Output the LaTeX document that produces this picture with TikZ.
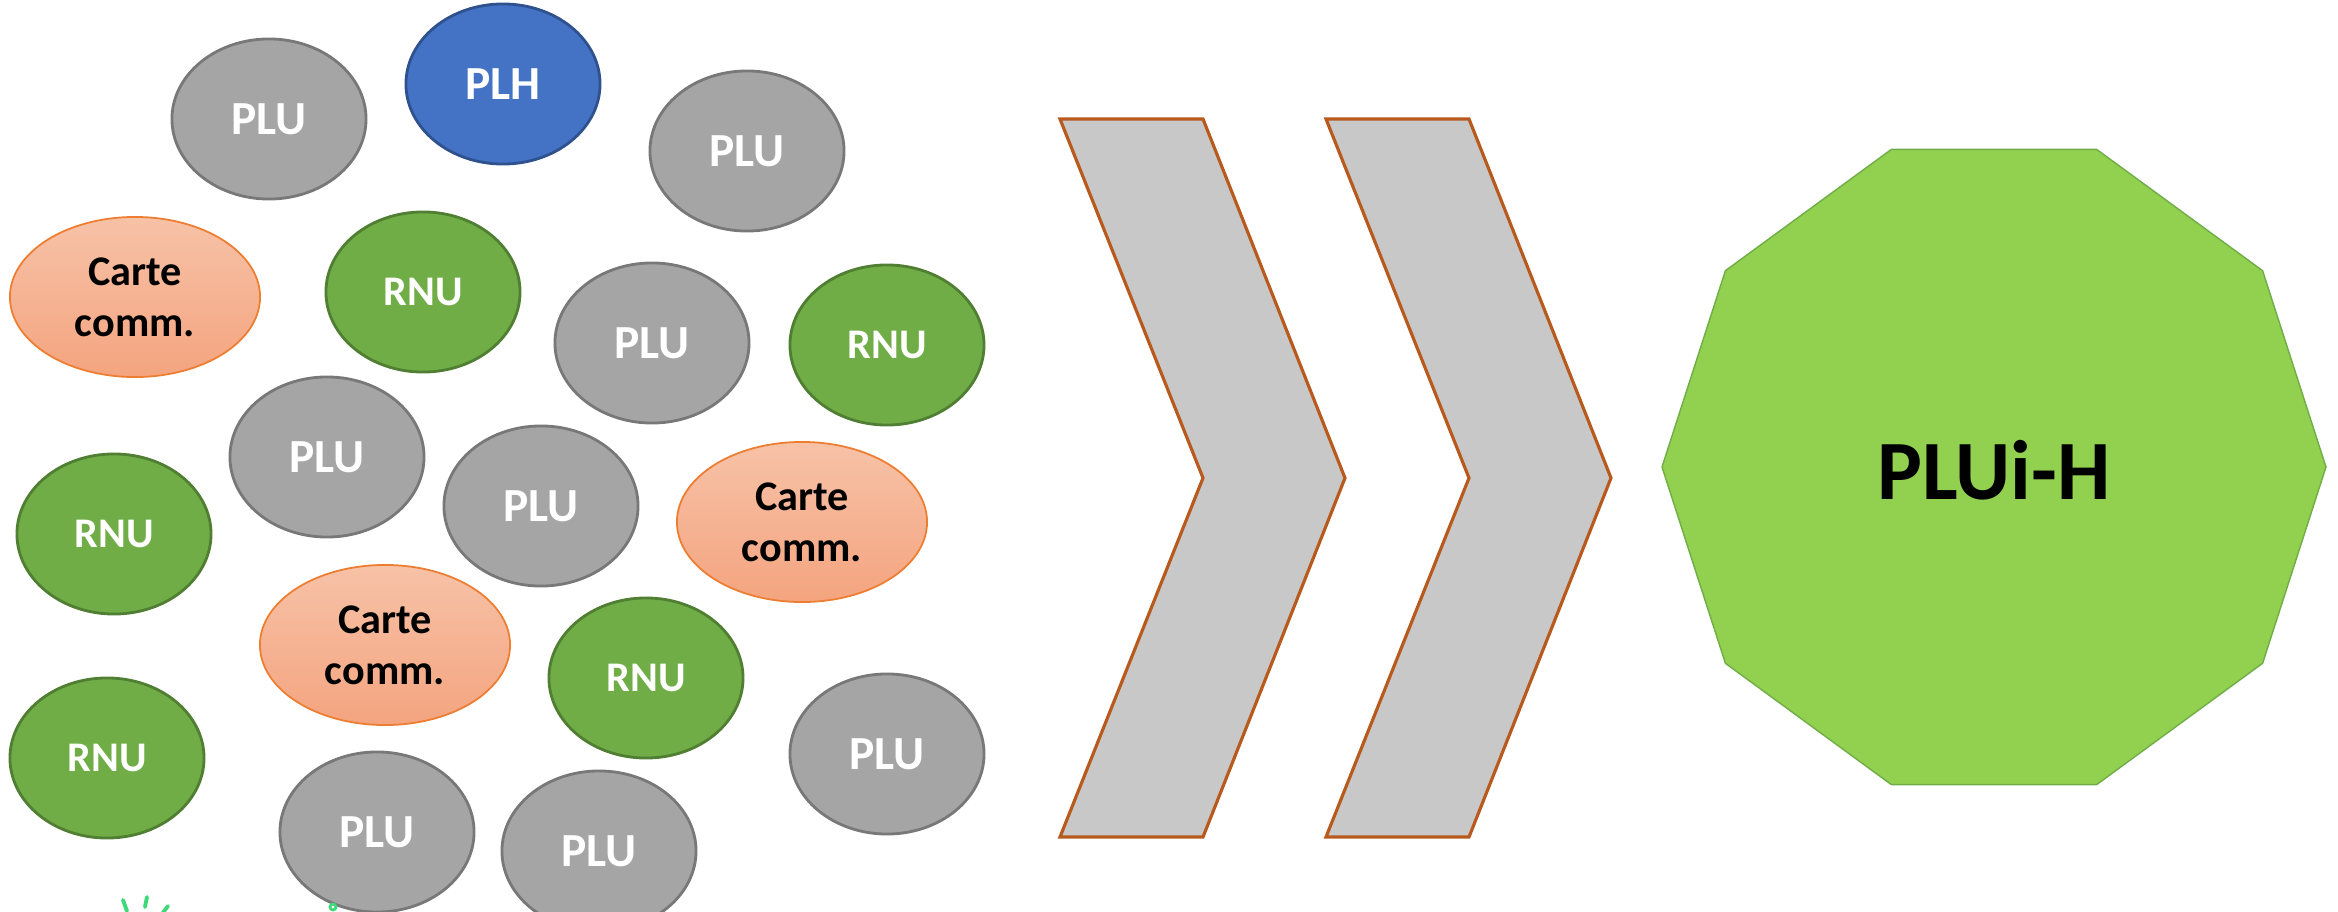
\documentclass[tikz,border=0pt]{standalone}
\usepackage{fontspec}
\setmainfont{Carlito}
\usetikzlibrary{shapes.geometric}
\definecolor{pluGray}{HTML}{A5A5A5}
\definecolor{pluEdge}{HTML}{787878}
\definecolor{rnuGreen}{HTML}{70AD47}
\definecolor{rnuEdge}{HTML}{507E32}
\definecolor{plhBlue}{HTML}{4472C4}
\definecolor{plhEdge}{HTML}{2F528F}
\definecolor{carteTop}{HTML}{F7C2A7}
\definecolor{carteBot}{HTML}{F4A47F}
\definecolor{carteEdge}{HTML}{ED7D31}
\definecolor{chevFill}{HTML}{C8C8C8}
\definecolor{chevEdge}{HTML}{B85A1E}
\definecolor{decFill}{HTML}{92D050}
\definecolor{decEdge}{HTML}{70AD47}
\definecolor{logoGreen}{HTML}{3FD97A}
\tikzset{
  bubble/.style={ellipse, minimum width=1.94cm, minimum height=1.6cm, inner sep=0pt,
    line width=0.8pt, font=\fontsize{13.5}{16}\selectfont\bfseries},
  plu/.style={bubble, fill=pluGray, draw=pluEdge, text=white},
  rnu/.style={bubble, fill=rnuGreen, draw=rnuEdge, text=white,
    font=\fontsize{12}{14.5}\selectfont\bfseries},
  plh/.style={bubble, fill=plhBlue, draw=plhEdge, text=white},
  carte/.style={bubble, minimum width=2.5cm, top color=carteTop, bottom color=carteBot,
    draw=carteEdge, line width=0.5pt, text=black, align=center,
    font=\fontsize{12}{14.5}\selectfont\bfseries},
  chev/.style={fill=chevFill, draw=chevEdge, line width=0.9pt, line join=miter},
  dec/.style={fill=decFill, draw=decEdge, line width=0.4pt},
  logo/.style={draw=logoGreen, line width=1.1pt, line cap=round},
}
\begin{document}
\begin{tikzpicture}[x=0.01cm, y=-0.01cm]
\useasboundingbox (0,0) rectangle (2338,912);
% bubbles
\node[plu] (plu1) at (269,119) {PLU};
\node[plh] (plh)  at (503,84)  {PLH};
\node[plu] (plu2) at (747,151) {PLU};
\node[carte] (carte1) at (135,297) {Carte\\comm.};
\node[rnu] (rnu1) at (423,292) {RNU};
\node[plu] (plu3) at (652,343) {PLU};
\node[rnu] (rnu2) at (887,345) {RNU};
\node[plu] (plu4) at (327,457) {PLU};
\node[rnu] (rnu3) at (114,534) {RNU};
\node[plu] (plu5) at (541,506) {PLU};
\node[carte] (carte2) at (802,522) {Carte\\comm.};
\node[carte] (carte3) at (385,645) {Carte\\comm.};
\node[rnu] (rnu4) at (646,678) {RNU};
\node[rnu] (rnu5) at (107,758) {RNU};
\node[plu] (plu6) at (887,754) {PLU};
\node[plu] (plu7) at (377,832) {PLU};
\node[plu] (plu8) at (599,851) {PLU};
% chevrons
\draw[chev] (1060,119) -- (1203,119) -- (1345,478) -- (1203,837) -- (1060,837) -- (1203,478) -- cycle;
\draw[chev] (1326,119) -- (1469,119) -- (1611,478) -- (1469,837) -- (1326,837) -- (1469,478) -- cycle;
% decagon
\begin{scope}[shift={(1994,467)}]
  \draw[dec] (0:332 and 334) \foreach \a in {36,72,...,324}{ -- (\a:332 and 334)} -- cycle;
\end{scope}
\node[font=\fontsize{24}{28}\selectfont\bfseries, text=black] (pluih) at (1994,470) {PLUi-H};
% partial logo at the bottom edge
\draw[logo] (123,900) -- (127,911);
\draw[logo] (147,897) -- (145,907);
\draw[logo] (168,906) -- (162,914);
\draw[logoGreen, line width=2.2pt] (274,922) arc[start angle=180, end angle=0, x radius=14, y radius=12];
\draw[logoGreen, line width=0.8pt] (333,907) circle[radius=3];
\draw[logoGreen, line width=2pt] (458,920) arc[start angle=180, end angle=60, x radius=11, y radius=10];
\end{tikzpicture}
\end{document}
